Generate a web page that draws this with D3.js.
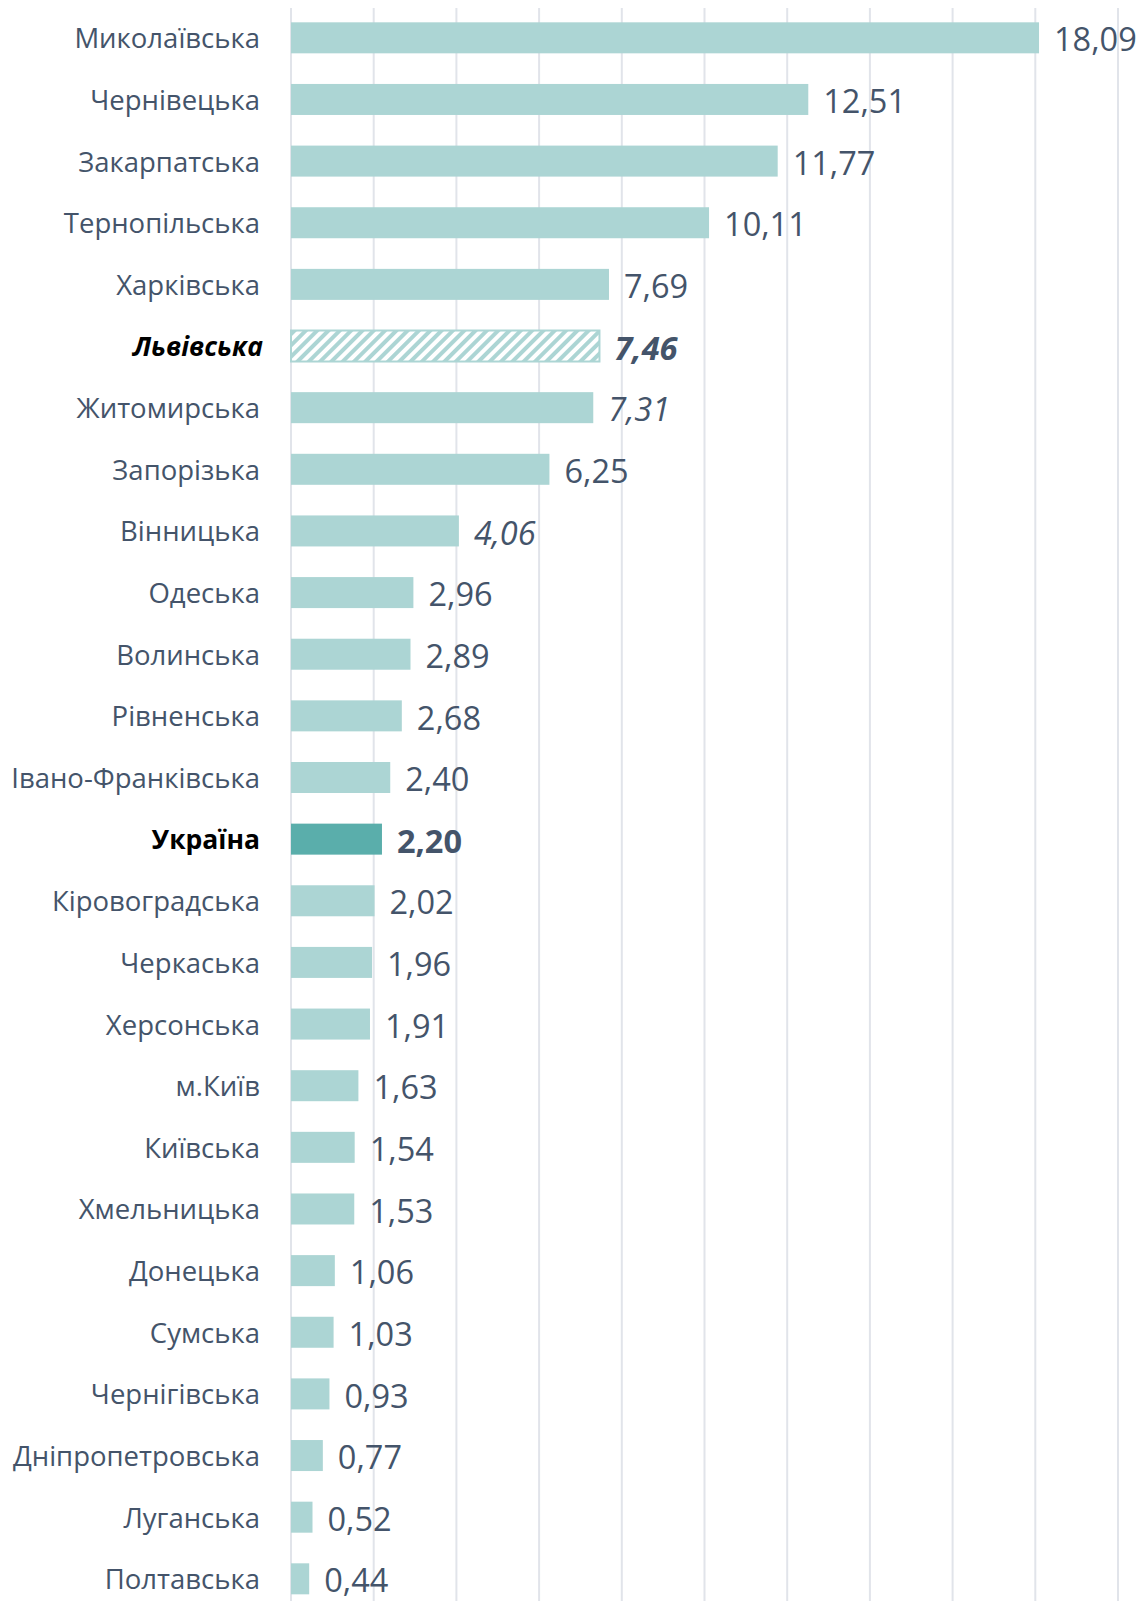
<!DOCTYPE html>
<html>
<head>
<meta charset="utf-8">
<script src="https://cdn.jsdelivr.net/npm/d3@7"></script>
<style>
  body { margin: 0; background: #fff; }
  svg text { font-family: "Open Sans", "Noto Sans", sans-serif; }
</style>
</head>
<body>
<div id="chart"></div>
<script>
// Regions, top to bottom
const regions = [
    'Миколаївська', 'Чернівецька', 'Закарпатська', 'Тернопільська', 'Харківська',
    'Львівська', 'Житомирська', 'Запорізька', 'Вінницька', 'Одеська',
    'Волинська', 'Рівненська', 'Івано-Франківська', 'Україна', 'Кіровоградська',
    'Черкаська', 'Херсонська', 'м.Київ', 'Київська', 'Хмельницька',
    'Донецька', 'Сумська', 'Чернігівська', 'Дніпропетровська', 'Луганська', 'Полтавська'
];

const values = [
    18.09, 12.51, 11.77, 10.11, 7.69,
    7.46, 7.31, 6.25, 4.06, 2.96,
    2.89, 2.68, 2.40, 2.20, 2.02,
    1.96, 1.91, 1.63, 1.54, 1.53,
    1.06, 1.03, 0.93, 0.77, 0.52, 0.44
];

const gridTicks = [0, 2, 4, 6, 8, 10, 12, 14, 16, 18, 20];

// Highlight rules
const hatched = ['Львівська'];
const national = ['Україна'];
const italicValues = ['Львівська', 'Житомирська', 'Вінницька'];

const width = 1143, height = 1601;
const margin = { top: 7, right: 25, left: 291 };
const step = 61.64;

const data = regions.map((name, i) => ({ name, value: values[i] }));
const isBold = d => hatched.includes(d.name) || national.includes(d.name);

const svg = d3.select('#chart').append('svg')
    .attr('width', width)
    .attr('height', height);

const defs = svg.append('defs');
const pattern = defs.append('pattern')
    .attr('id', 'hatch')
    .attr('patternUnits', 'userSpaceOnUse')
    .attr('width', 8)
    .attr('height', 8)
    .attr('patternTransform', 'rotate(45)');
pattern.append('rect').attr('width', 8).attr('height', 8).attr('fill', '#fff');
pattern.append('rect').attr('width', 4).attr('height', 8).attr('fill', '#acd5d4');

const x = d3.scaleLinear()
    .domain([0, 20])
    .range([margin.left, width - margin.right]);

// bands run a little past the bottom edge, the last bar sits at the crop line
const y = d3.scaleBand()
    .domain(regions)
    .range([margin.top, margin.top + step * regions.length])
    .paddingInner(0.497)
    .paddingOuter(0.2485);

// Vertical gridlines
svg.append('g')
    .selectAll('line')
    .data(gridTicks)
    .join('line')
    .attr('x1', d => x(d))
    .attr('x2', d => x(d))
    .attr('y1', 8)
    .attr('y2', height)
    .attr('stroke', '#e1e4ea')
    .attr('stroke-width', 2);

// Bars
svg.append('g')
    .selectAll('rect')
    .data(data)
    .join('rect')
    .attr('x', x(0))
    .attr('y', d => y(d.name))
    .attr('width', d => x(d.value) - x(0))
    .attr('height', y.bandwidth())
    .attr('fill', d => hatched.includes(d.name) ? 'url(#hatch)' : national.includes(d.name) ? '#5aaeab' : '#acd5d4')
    .attr('stroke', d => hatched.includes(d.name) ? '#acd5d4' : 'none')
    .attr('stroke-width', 2);

// Category labels
svg.append('g')
    .selectAll('text')
    .data(data)
    .join('text')
    .attr('x', d => hatched.includes(d.name) ? 263 : 260)
    .attr('y', d => y(d.name) + y.bandwidth() / 2)
    .attr('dy', '0.38em')
    .attr('text-anchor', 'end')
    .attr('font-size', d => isBold(d) ? 26.5 : 27.5)
    .attr('font-weight', d => isBold(d) ? 700 : 400)
    .attr('font-style', d => hatched.includes(d.name) ? 'italic' : 'normal')
    .attr('fill', d => isBold(d) ? '#000' : '#44546a')
    .text(d => d.name);

// Value labels
const fmt = d3.formatLocale({ decimal: ',', thousands: ' ', grouping: [3], currency: ['', ''] }).format('.2f');

svg.append('g')
    .selectAll('text')
    .data(data)
    .join('text')
    .attr('x', d => x(d.value) + 15)
    .attr('y', d => y(d.name) + y.bandwidth() / 2)
    .attr('dy', '0.42em')
    .attr('font-size', 32.5)
    .attr('font-weight', d => isBold(d) ? 700 : 400)
    .attr('font-style', d => italicValues.includes(d.name) ? 'italic' : 'normal')
    .attr('fill', '#44546a')
    .text(d => fmt(d.value));
</script>
</body>
</html>
